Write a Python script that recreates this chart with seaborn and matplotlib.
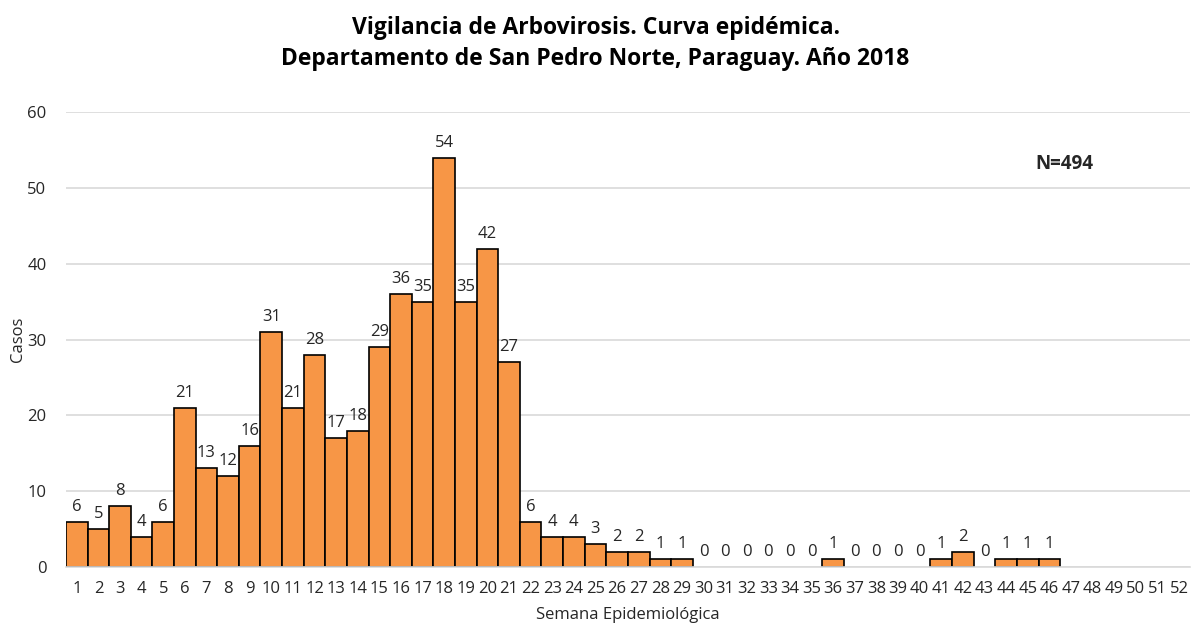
import numpy as np
import pandas as pd
import matplotlib
matplotlib.use("Agg")
import matplotlib.pyplot as plt
import seaborn as sns

# semanas epidemiologicas y casos
semanas = [str(i) for i in range(1, 53)]
casos = [6, 5, 8, 4, 6, 21, 13, 12, 16, 31, 21, 28, 17, 18, 29, 36, 35, 54, 35, 42,
         27, 6, 4, 4, 3, 2, 2, 1, 1, 0, 0, 0, 0, 0, 0, 1, 0, 0, 0, 0,
         1, 2, 0, 1, 1, 1, np.nan, np.nan, np.nan, np.nan, np.nan, np.nan]
titulo = "Vigilancia de Arbovirosis. Curva epidémica.\nDepartamento de San Pedro Norte, Paraguay. Año 2018"
total = "N=494"

df = pd.DataFrame({"semana": semanas, "casos": casos})

sns.set_style("white")
plt.rcParams["font.family"] = ["Open Sans", "DejaVu Sans"]

fig = plt.figure(figsize=(11.91, 6.25), dpi=100)
ax = fig.add_axes([0.0554, 0.0928, 0.9436, 0.728])

sns.barplot(data=df, x="semana", y="casos", order=semanas, color="#F79646", width=1,
            edgecolor="black", linewidth=1.2, saturation=1, ax=ax, zorder=3)

# etiquetas de datos (sin barras para semanas sin dato)
for bar, v in zip(ax.containers[0], casos):
    if bar is None or np.isnan(v):
        continue
    if v == 0:
        bar.set_linewidth(0)
    ax.annotate(str(int(v)), (bar.get_x() + bar.get_width() / 2, bar.get_height()),
                xytext=(0, 5), textcoords="offset points", ha="center", va="bottom",
                fontsize=12, color="#262626")

ax.set_ylim(0, 60)
ax.set_yticks(range(0, 61, 10))
ax.set_xlim(-0.5, 51.5)
ax.yaxis.grid(True, color="#D9D9D9", linewidth=1.2, zorder=0)
ax.set_axisbelow(True)
for s in ["top", "right", "left"]:
    ax.spines[s].set_visible(False)
ax.spines["bottom"].set_color("#D9D9D9")
ax.spines["bottom"].set_linewidth(1.2)
ax.spines["bottom"].set_zorder(4)
ax.tick_params(axis="both", length=0, labelsize=12, colors="#262626")
ax.tick_params(axis="x", pad=10)
ax.tick_params(axis="y", pad=14)

ax.set_xlabel("Semana Epidemiológica", fontsize=12, color="#262626", labelpad=7)
ax.set_ylabel("Casos", fontsize=12, color="#262626", va="center")
ax.yaxis.set_label_coords(-0.0425, 0.5)

fig.suptitle(titulo, fontsize=16.5, fontweight="bold", y=0.975, linespacing=1.4,
             color="black")
ax.text(0.888, 0.885, total, transform=ax.transAxes, fontsize=13.5, fontweight="bold",
        ha="center", va="center")

fig.savefig("out.png", dpi=100)
